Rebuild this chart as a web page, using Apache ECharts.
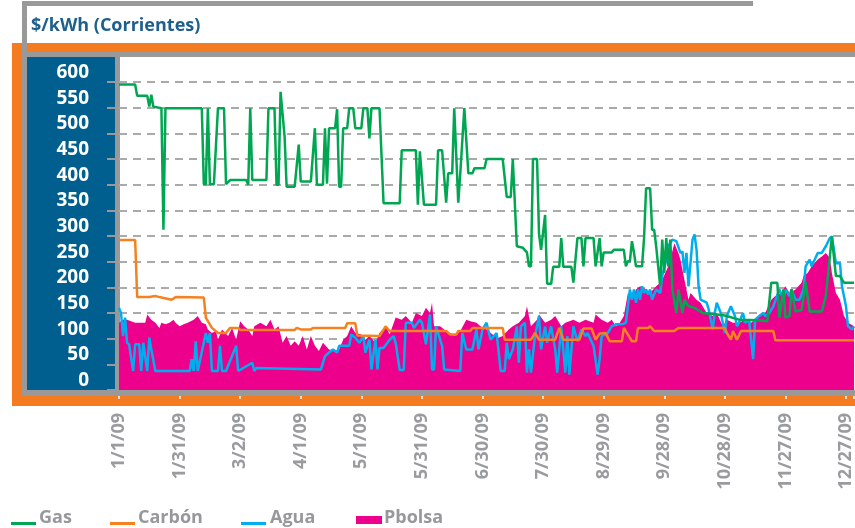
<!DOCTYPE html>
<html>
<head>
<meta charset="utf-8">
<script src="https://cdn.jsdelivr.net/npm/echarts@6/dist/echarts.min.js"></script>
<style>
  html, body { margin: 0; padding: 0; background: #fff; }
  #chart { width: 855px; height: 528px; }
</style>
</head>
<body>
<div id="chart"></div>
<script>
// x = day of 2009 (0 = 1/1/09), y = $/kWh
const tickLabels = ["1/1/09", "1/31/09", "3/2/09", "4/1/09", "5/1/09", "5/31/09", "6/30/09",
  "7/30/09", "8/29/09", "9/28/09", "10/28/09", "11/27/09", "12/27/09"];

const gas = [[0,595],[8,595],[9,573],[14,573],[15,552],[16,575],[17,552],[21,549],[22,312],[23,549],
  [41,549],[42,401],[43,401],[44,549],[45,401],[47,401],[49,549],[52,549],[53,401],[55,409],[63,409],
  [64,400],[65,549],[66,409],[73,409],[74,549],[77,549],[78,400],[79,400],[80,581],[82,494],[83,396],
  [87,396],[89,478],[90,406],[95,406],[97,510],[98,400],[101,400],[102,510],[103,402],[104,510],
  [107,510],[108,547],[109,396],[110,396],[111,510],[113,510],[114,549],[116,549],[117,510],[120,510],
  [121,549],[123,549],[124,490],[125,549],[129,549],[131,364],[139,364],[140,467],[147,467],[148,361],
  [149,465],[151,361],[157,361],[158,467],[160,467],[162,365],[163,422],[165,422],[166,549],[168,365],
  [169,422],[171,549],[173,422],[175,422],[176,432],[181,432],[182,450],[190,450],[192,376],[194,376],
  [195,450],[197,280],[200,277],[202,268],[203,241],[204,241],[205,450],[207,450],[208,303],[209,273],
  [211,341],[212,207],[214,207],[215,240],[218,240],[219,296],[220,240],[224,240],[225,209],[227,296],
  [229,296],[230,241],[231,296],[235,296],[236,241],[238,296],[239,241],[240,268],[244,268],[245,273],
  [250,273],[251,241],[252,251],[253,251],[254,290],[255,268],[256,241],[259,241],[260,296],[261,393],
  [263,393],[264,312],[265,312],[266,280],[268,202],[269,293],[270,228],[271,296],[272,241],[273,293],
  [274,196],[276,150],[277,196],[279,150],[280,176],[282,163],[285,160],[289,150],[294,148],[300,145],
  [307,137],[316,136],[321,134],[323,209],[326,209],[327,141],[329,196],[330,141],[332,144],[333,196],
  [335,153],[338,156],[340,210],[342,153],[348,153],[350,183],[353,299],[355,222],[357,222],[359,209],
  [364,209]];

const carbon = [[0,292],[8,292],[9,181],[15,181],[18,183],[20,181],[26,176],[27,178],[28,181],[42,180],
  [43,141],[46,121],[49,111],[53,111],[55,121],[59,121],[60,117],[87,117],[88,121],[90,118],[95,118],
  [96,121],[112,121],[113,130],[117,130],[118,106],[129,105],[132,124],[134,115],[162,115],[164,108],
  [167,108],[168,115],[174,115],[175,121],[190,121],[191,98],[204,98],[206,111],[208,98],[216,98],
  [218,121],[220,98],[228,98],[230,120],[234,120],[236,98],[238,110],[241,111],[243,95],[249,95],
  [250,121],[252,108],[254,95],[256,95],[257,121],[262,121],[263,124],[265,115],[275,115],[277,121],
  [300,121],[301,111],[303,98],[304,115],[306,98],[308,115],[324,115],[325,97],[364,97]];

const agua = [[0,160],[1,150],[2,105],[3,141],[4,92],[5,89],[7,37],[8,89],[10,89],[11,37],[12,92],
  [14,37],[15,102],[16,79],[18,37],[35,37],[36,60],[37,37],[38,95],[39,37],[43,111],[44,92],[45,111],
  [46,37],[49,37],[50,86],[51,37],[53,37],[58,86],[59,37],[66,53],[67,37],[68,43],[100,40],[102,66],
  [104,73],[106,79],[108,73],[109,86],[114,86],[115,108],[117,102],[119,92],[121,105],[122,73],[124,98],
  [125,40],[127,98],[128,40],[129,82],[131,82],[134,98],[136,105],[137,92],[139,39],[141,39],[142,131],
  [145,131],[146,121],[149,137],[150,131],[152,89],[154,147],[155,40],[156,40],[157,124],[160,86],
  [161,40],[169,37],[170,111],[172,79],[175,79],[177,118],[178,79],[180,118],[182,131],[184,98],
  [187,111],[189,37],[191,37],[192,92],[193,60],[195,79],[197,124],[198,53],[199,124],[201,131],
  [202,34],[203,79],[204,34],[206,105],[208,144],[209,79],[211,124],[212,92],[214,124],[216,79],
  [217,34],[219,124],[221,34],[222,105],[223,30],[225,124],[227,95],[229,118],[231,105],[232,111],
  [235,86],[237,30],[238,60],[239,105],[242,111],[244,124],[246,128],[249,128],[251,131],[253,196],
  [254,176],[255,196],[256,170],[257,196],[258,176],[259,202],[260,189],[261,196],[262,186],[263,196],
  [264,176],[266,196],[268,189],[269,222],[271,254],[272,280],[274,293],[276,290],[278,267],[279,270],
  [280,228],[281,267],[282,202],[284,293],[285,303],[286,273],[287,202],[288,176],[291,170],[292,157],
  [294,118],[295,150],[296,170],[298,150],[300,111],[301,144],[303,163],[305,144],[306,124],[307,131],
  [309,150],[310,131],[312,137],[314,60],[315,137],[317,144],[319,150],[320,144],[322,150],[324,163],
  [327,196],[329,176],[330,196],[332,183],[333,196],[335,176],[337,176],[339,196],[340,241],[342,254],
  [343,241],[346,267],[348,267],[350,280],[352,296],[353,299],[355,247],[357,247],[358,202],[360,163],
  [361,124],[363,118],[364,124]];

const pbolsa = [[0,131],[2,137],[4,137],[6,134],[8,131],[11,131],[13,131],[14,147],[16,137],[18,131],
  [20,121],[21,131],[23,128],[25,131],[27,137],[28,131],[30,124],[32,128],[34,131],[37,137],[39,144],
  [41,131],[43,128],[44,118],[46,111],[48,115],[49,98],[51,118],[54,105],[56,121],[58,98],[60,134],
  [62,124],[64,118],[66,105],[67,124],[70,131],[73,124],[75,137],[77,118],[79,124],[81,92],[83,105],
  [85,86],[87,95],[89,86],[91,105],[93,79],[95,105],[97,86],[99,76],[101,92],[104,79],[107,76],
  [109,79],[111,98],[113,105],[115,124],[117,111],[120,108],[122,98],[124,105],[127,92],[129,111],
  [132,124],[134,108],[137,141],[140,137],[142,144],[145,131],[147,150],[150,144],[152,160],[154,150],
  [155,170],[156,124],[159,124],[161,118],[164,111],[166,105],[169,115],[172,137],[174,134],[177,131],
  [179,124],[182,118],[185,108],[188,102],[190,105],[193,118],[195,124],[198,131],[201,144],[202,163],
  [204,124],[207,137],[208,147],[211,131],[214,137],[216,144],[219,124],[221,131],[225,137],[228,131],
  [231,137],[235,131],[236,147],[239,137],[242,131],[244,137],[246,124],[248,131],[250,144],[252,189],
  [254,176],[256,196],[258,202],[261,196],[263,189],[266,202],[268,209],[269,215],[272,241],[273,254],
  [275,286],[277,267],[278,254],[280,215],[282,176],[283,189],[286,176],[288,170],[291,150],[294,144],
  [296,150],[299,124],[301,137],[304,131],[307,131],[310,137],[313,131],[317,144],[320,150],[323,176],
  [325,183],[328,189],[330,202],[332,189],[335,196],[338,209],[339,222],[341,228],[343,241],[346,254],
  [348,260],[350,267],[352,257],[353,228],[355,189],[357,176],[359,144],[361,131],[364,124]];

const GREEN = "#00A651", ORANGE = "#F58220", BLUE = "#00AEEF", PINK = "#EC008C";
const FRAME_GRAY = "#999999", FRAME_ORANGE = "#F47B20", PANEL_BLUE = "#005F8E";
const FONT = '"Open Sans", "Noto Sans", sans-serif';

const chart = echarts.init(document.getElementById("chart"));

const rect = (x, y, w, h, fill, z) => ({ type: "rect", z, silent: true, shape: { x, y, width: w, height: h }, style: { fill } });
const text = (x, y, t, fill) => ({
  type: "text", z: 200, silent: true, x, y,
  style: { text: t, fill, font: "bold 18px " + FONT, verticalAlign: "middle" }
});

const legendItems = [
  { name: "Gas", color: GREEN, x: 11, tx: 39, bar: false },
  { name: "Carbón", color: ORANGE, x: 110, tx: 138, bar: false },
  { name: "Agua", color: BLUE, x: 241, tx: 270, bar: false },
  { name: "Pbolsa", color: PINK, x: 356, tx: 384, bar: true }
];

const graphics = [
  // frame
  rect(12, 43, 843, 363, FRAME_ORANGE, -30),
  rect(22, 52, 833, 344, FRAME_GRAY, -29),
  rect(27, 57, 88, 333, PANEL_BLUE, -28),
  rect(120, 57, 735, 333, "#ffffff", -28),
  rect(22, 1, 731, 5, FRAME_GRAY, -30),
  rect(22, 1, 5, 52, FRAME_GRAY, -30),
  rect(22, 390, 833, 6, FRAME_GRAY, 100),
  text(31, 26, "$/kWh (Corrientes)", "#1D5F8D")
];
legendItems.forEach(it => {
  graphics.push(it.bar ? rect(it.x, 516, 26, 8, it.color, 200) : rect(it.x, 522, 25, 3, it.color, 200));
  graphics.push(text(it.tx, 518, it.name, "#96989B"));
});

const lineSeries = (name, data, color) => ({
  name, type: "line", data, showSymbol: false, symbol: "none",
  lineStyle: { color, width: 2.5 }, itemStyle: { color }, animation: false
});

const option = {
  animation: false,
  backgroundColor: "#ffffff",
  grid: { left: 119, right: 0, top: 82, bottom: 138 },
  graphic: graphics,
  xAxis: {
    type: "value", min: 0, max: 364, interval: 30, offset: 7,
    axisLine: { show: false },
    axisTick: { show: true, length: 9, lineStyle: { color: "#ffffff", width: 1.5 } },
    splitLine: { show: false },
    axisLabel: {
      rotate: 90, margin: 16, color: "#999B9E", fontFamily: FONT, fontWeight: "bold", fontSize: 18,
      formatter: v => tickLabels[v / 30] || ""
    }
  },
  yAxis: {
    type: "value", min: 0, max: 600, interval: 50, offset: 4,
    axisLine: { show: false },
    axisTick: { show: true, length: 12, lineStyle: { color: FRAME_GRAY, width: 2 } },
    splitLine: { show: true, lineStyle: { color: "#AAAAAA", width: 2, type: [8, 6] } },
    axisLabel: {
      margin: 26, color: "#ffffff", fontFamily: FONT, fontWeight: "bold", fontSize: 19,
      verticalAlign: "bottom"
    }
  },
  series: [
    {
      name: "Pbolsa", type: "line", data: pbolsa, showSymbol: false, symbol: "none",
      lineStyle: { width: 0 }, itemStyle: { color: PINK },
      areaStyle: { color: PINK, opacity: 1 }
    },
    lineSeries("Agua", agua, BLUE),
    lineSeries("Carbón", carbon, ORANGE),
    lineSeries("Gas", gas, GREEN)
  ]
};

chart.setOption(option);
</script>
</body>
</html>
